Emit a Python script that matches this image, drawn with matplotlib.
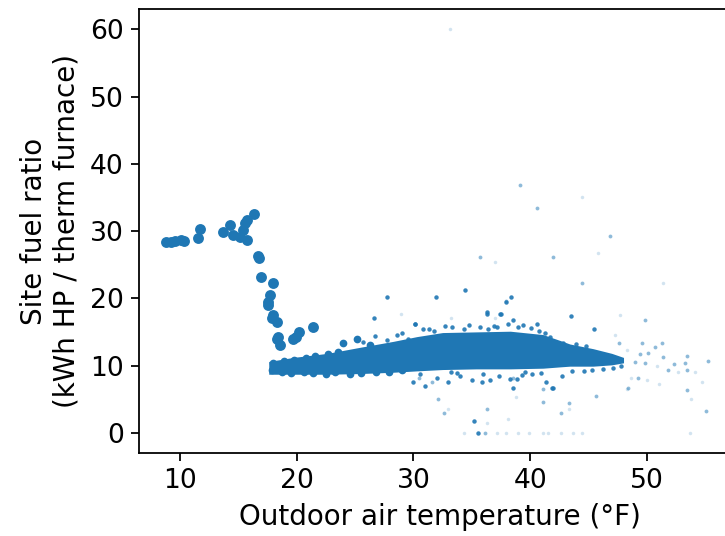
import numpy as np
import matplotlib.pyplot as plt

# big low-temperature points (few hours, high ratio)
cold_t = [8.8, 9.2, 9.6, 10.1, 10.3, 11.5, 11.7, 13.7, 14.3, 14.5, 15.1, 15.6, 15.7, 15.4,
          16.3, 15.7, 16.7, 16.8, 16.9, 18.0, 17.7, 17.5, 17.5, 18.0, 17.9, 18.3, 18.4,
          18.3, 18.6, 19.7, 19.9, 20.2, 21.4]
cold_r = [28.4, 28.3, 28.5, 28.6, 28.5, 29.0, 30.3, 29.9, 30.9, 29.4, 29.1, 31.2, 28.7, 30.2,
          32.6, 31.7, 26.3, 26.0, 23.2, 22.2, 20.5, 19.4, 19.0, 17.5, 17.0, 16.4, 14.2,
          14.0, 13.0, 14.0, 14.3, 15.0, 15.8]

# dense cloud of hourly points, as its envelope
band_t = [17.6, 19.7, 22.6, 25.4, 28.3, 30.3, 32.5, 35.4, 38.3, 41.1, 42.6, 43.4, 45.4, 47.0, 48.0]
band_lo = [8.7, 8.7, 8.7, 8.8, 9.0, 9.2, 9.4, 9.5, 9.5, 9.6, 9.8, 9.9, 9.9, 10.1, 10.4]
band_hi = [10.6, 11.2, 11.8, 12.7, 13.6, 14.3, 14.9, 15.0, 15.1, 14.6, 13.7, 13.2, 12.5, 11.8, 11.2]

# points along the edge of the cloud
edge_big_t = [17.9, 18.7, 19.5, 20.6, 21.4, 22.5, 23.3, 24.6, 25.5, 26.8, 27.9, 29.0,
              18.0, 18.9, 19.8, 20.8, 21.6, 22.7, 23.5, 24.0, 25.2, 26.3]
edge_big_r = [9.3, 9.0, 8.9, 9.0, 8.9, 8.8, 9.0, 8.8, 8.9, 9.1, 9.0, 9.3,
              10.3, 10.6, 10.8, 11.1, 11.4, 11.7, 12.0, 13.3, 13.9, 13.0]
edge_t = [25.7, 26.7, 27.7, 28.6, 29.5, 30.1, 30.8, 31.8, 33.3, 34.3, 35.7, 36.4, 37.2,
          38.1, 38.5, 39.4, 40.6, 40.8, 41.7, 42.8, 36.3, 37.4, 37.9,
          29.0, 31.3, 32.7, 34.8, 36.9, 39.0, 40.1, 41.3, 43.9, 44.8,
          32.0, 33.2, 34.0, 35.0, 35.9, 36.6, 37.3, 38.3, 38.9, 39.6, 40.2, 41.4, 41.9, 42.7,
          30.6, 33.7, 36.0, 39.3, 40.9, 43.6, 44.6, 45.3, 46.2, 47.1, 47.8]
edge_r = [13.5, 14.4, 13.8, 14.6, 14.0, 16.1, 15.5, 15.2, 15.7, 15.5, 15.7, 15.5, 15.7,
          16.2, 16.7, 16.0, 16.2, 15.2, 14.2, 13.3, 17.7, 17.7, 19.4,
          14.9, 15.4, 15.9, 16.0, 15.9, 15.7, 15.6, 14.9, 13.2, 12.9,
          8.2, 9.0, 8.5, 7.8, 7.5, 7.8, 8.5, 8.0, 8.0, 9.0, 8.8, 7.5, 6.6, 8.5,
          8.7, 8.9, 8.8, 8.6, 8.9, 9.2, 9.2, 9.3, 9.5, 9.7, 10.0]

# scattered outliers, by how many hours they hold
strong_t = [27.7, 31.9, 34.4, 38.4, 26.6, 36.3, 37.5, 43.5, 30.1, 45.5, 30.0, 31.0,
            33.0, 35.2, 38.5, 42.0, 35.5]
strong_r = [20.2, 20.2, 21.2, 20.2, 17.0, 17.9, 17.7, 17.3, 16.1, 15.5, 7.5, 6.9,
            7.5, 1.8, 6.6, 6.6, 0.0]
mid_t = [40.6, 46.8, 35.7, 42.0, 37.9, 44.4, 39.1, 49.8, 47.6, 49.6, 50.7, 51.3, 49.4,
         50.1, 51.4, 53.4, 49.0, 49.8, 52.3, 53.3, 51.8, 53.4, 49.2, 48.4, 53.4, 55.1,
         45.6, 43.3, 31.6, 30.5, 32.6, 36.3, 38.5, 41.1, 42.6, 41.1, 55.2, 36.1, 32.1]
mid_r = [33.4, 29.3, 26.2, 26.2, 19.6, 22.3, 36.9, 16.7, 13.4, 13.3, 12.7, 13.3, 11.7,
         11.8, 11.2, 11.4, 10.5, 10.4, 10.2, 10.3, 9.3, 9.3, 8.2, 6.6, 6.3, 3.3,
         5.4, 4.4, 7.5, 8.2, 3.0, 3.6, 8.2, 6.5, 2.9, 4.5, 10.6, 0.0, 5.0]
faint_t = [33.1, 44.4, 45.8, 37.0, 51.4, 37.0, 28.9, 33.2, 47.7, 47.3, 48.3, 50.9, 52.7,
           54.1, 48.6, 50.0, 51.0, 54.7, 53.8, 33.0, 36.3, 38.8, 38.1, 43.3, 48.3,
           34.3, 37.2, 37.9, 39.0, 39.9, 41.1, 41.5, 42.6, 43.7, 44.4, 53.7]
faint_r = [60.0, 35.0, 26.8, 25.4, 22.3, 17.1, 17.7, 17.0, 17.5, 14.5, 12.3, 10.0, 9.0,
           9.0, 8.2, 7.8, 7.3, 7.5, 5.0, 3.6, 1.5, 5.3, 2.1, 3.6, 6.5,
           0.0, 0.0, 0.0, 0.0, 0.0, 0.0, 0.0, 0.0, 0.0, 0.0, 0.0]

c = '#1f77b4'
fig = plt.figure(figsize=(725/160, 536/160), dpi=160)
ax = fig.add_axes([0.192, 0.155, 0.829, 0.828])

ax.fill_between(band_t, band_lo, band_hi, color=c, lw=0)
ax.scatter(edge_big_t, edge_big_r, s=12, color=c, lw=0)
ax.scatter(edge_t, edge_r, s=4, color=c, lw=0, alpha=0.9)
ax.scatter(cold_t, cold_r, s=24, color=c, lw=0)
ax.scatter(strong_t, strong_r, s=4, color=c, lw=0, alpha=0.9)
ax.scatter(mid_t, mid_r, s=3, color=c, lw=0, alpha=0.5)
ax.scatter(faint_t, faint_r, s=2.5, color=c, lw=0, alpha=0.2)

ax.set_xlim(6.5, 58)
ax.set_ylim(-3, 63)
ax.set_xticks([10, 20, 30, 40, 50])
ax.set_yticks([0, 10, 20, 30, 40, 50, 60])
ax.tick_params(labelsize=12)
ax.set_xlabel('Outdoor air temperature (°F)', fontsize=12.5)
ax.set_ylabel('Site fuel ratio\n(kWh HP / therm furnace)', fontsize=12.5)

fig.savefig('out.png', dpi=160)
